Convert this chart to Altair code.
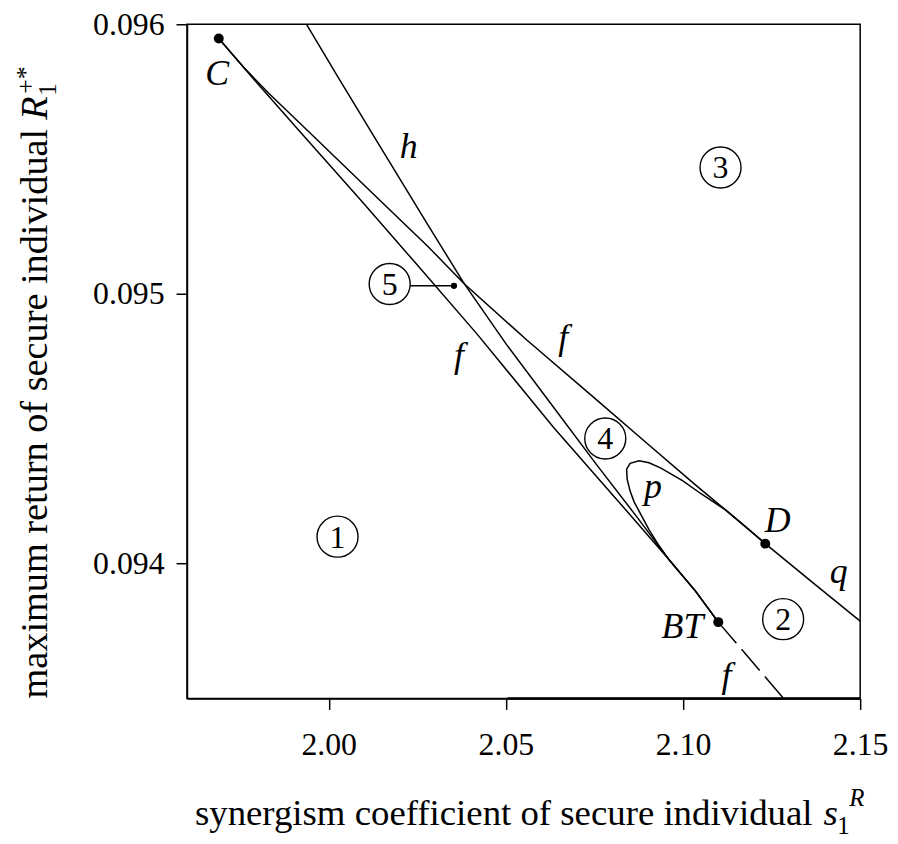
import altair as alt
import pandas as pd

# ---------------- data ----------------
# upper fold curve f : from cusp C through D, continuing as q
upper_f_s = [1.96897, 1.97598, 1.98300, 1.99702, 2.01384, 2.02786, 2.03824, 2.05591,
             2.07554, 2.08956, 2.10358, 2.11199, 2.11760, 2.12321, 2.13723, 2.15000]
upper_f_R = [0.095947, 0.095841, 0.095745, 0.095568, 0.095355, 0.095178, 0.095038, 0.094829,
             0.094608, 0.094449, 0.094291, 0.094199, 0.094137, 0.094074, 0.093923, 0.093787]

# lower fold curve f : from cusp C to BT
lower_f_s = [1.96897, 1.97935, 1.99141, 2.00908, 2.02422, 2.04189, 2.06348, 2.08115,
             2.09601, 2.10358, 2.10995]
lower_f_R = [0.095947, 0.095789, 0.095609, 0.095347, 0.095119, 0.094851, 0.094505, 0.094240,
             0.094015, 0.093897, 0.093783]

# dashed continuation of f below BT
dashed_f_s = [2.10995, 2.12840]
dashed_f_R = [0.093783, 0.093500]

# Hopf curve h
h_s = [1.99374, 2.00263, 2.01384, 2.02786, 2.03824, 2.05030, 2.06208, 2.07554,
       2.08675, 2.09601, 2.10358, 2.10995]
h_R = [0.096000, 0.095804, 0.095561, 0.095259, 0.095038, 0.094810, 0.094604, 0.094368,
       0.094177, 0.094015, 0.093897, 0.093783]

# curve p : from BT, loop, joining f at D
p_s = [2.10995, 2.10358, 2.09601, 2.09320, 2.09040, 2.08816, 2.08619, 2.08507, 2.08423,
       2.08409, 2.08507, 2.08760, 2.09040, 2.09377, 2.09985, 2.10498, 2.10919, 2.11199,
       2.11760, 2.12321]
p_R = [0.093783, 0.093897, 0.094015, 0.094067, 0.094126, 0.094181, 0.094229, 0.094269, 0.094313,
       0.094350, 0.094372, 0.094381, 0.094374, 0.094354, 0.094308, 0.094260, 0.094223, 0.094199,
       0.094137, 0.094074]

# curve lying on the lower boundary
bottom_s = [2.0505, 2.1500]
bottom_R = [0.0935, 0.0935]

# special points C, D, BT
pt_names = ["C", "D", "BT"]
pt_s = [1.96897, 2.12321, 2.10995]
pt_R = [0.095947, 0.094074, 0.093783]

# italic curve / point labels
lab_text = ["C", "h", "f", "f", "p", "D", "q", "BT", "f"]
lab_s = [1.96850, 2.02254, 2.06620, 2.03675, 2.09152, 2.12672, 2.14396, 2.09985, 2.11227]
lab_R = [0.095773, 0.095503, 0.094795, 0.094729, 0.094243, 0.094117, 0.093927, 0.093724, 0.093544]

# circled region numbers
reg_text = ["1", "2", "3", "4", "5"]
reg_s = [2.00249, 2.12826, 2.11059, 2.07806, 2.01721]
reg_R = [0.094100, 0.093794, 0.095469, 0.094464, 0.095037]

# pointer from region 5 to its dot
ptr_s = [2.02302]
ptr_s2 = [2.03535]
ptr_R = [0.09503]

x_ticks = [2.00, 2.05, 2.10, 2.15]
y_ticks = [0.094, 0.095, 0.096]
X_DOMAIN = [1.96, 2.15]
Y_DOMAIN = [0.0935, 0.096]

# ---------------- chart ----------------
SERIF = "Liberation Serif"
W, H = 677, 678
LW = 1.5

xsc = alt.Scale(domain=X_DOMAIN, nice=False, zero=False)
ysc = alt.Scale(domain=Y_DOMAIN, nice=False, zero=False)
xax = alt.Axis(values=x_ticks, format=".2f", title=None, grid=False, labelFlush=False,
               labelOverlap=False, tickSize=11, labelPadding=20)
yax = alt.Axis(values=y_ticks, format=".3f", title=None, grid=False, labelFlush=False,
               labelOverlap=False, tickSize=11, labelPadding=12)


def X(field="s"):
    return alt.X(f"{field}:Q", scale=xsc, axis=xax)


def Y(field="R"):
    return alt.Y(f"{field}:Q", scale=ysc, axis=yax)


def curve(name, s, r):
    return pd.DataFrame({"curve": name, "order": list(range(len(s))), "s": s, "R": r})


lines_df = pd.concat([
    curve("f_upper", upper_f_s, upper_f_R),
    curve("f_lower", lower_f_s, lower_f_R),
    curve("h", h_s, h_R),
    curve("p", p_s, p_R),
], ignore_index=True)

lines = alt.Chart(lines_df).mark_line(color="black", strokeWidth=LW).encode(
    x=X(), y=Y(), detail="curve:N", order="order:Q")

dashed = alt.Chart(curve("f_dash", dashed_f_s, dashed_f_R)).mark_line(
    color="black", strokeWidth=LW, strokeDash=[28, 8]).encode(x=X(), y=Y(), order="order:Q")

bottom = alt.Chart(curve("bottom", bottom_s, bottom_R)).mark_line(
    color="black", strokeWidth=2.6).encode(x=X(), y=Y(), order="order:Q")

pts = alt.Chart(pd.DataFrame({"name": pt_names, "s": pt_s, "R": pt_R})).mark_circle(
    color="black", size=100, opacity=1).encode(x=X(), y=Y())

ptr_df = pd.DataFrame({"s": ptr_s, "s2": ptr_s2, "R": ptr_R})
ptr_line = alt.Chart(ptr_df).mark_rule(color="black", strokeWidth=LW).encode(
    x=X(), x2="s2:Q", y=Y())
ptr_dot = alt.Chart(ptr_df).mark_circle(color="black", size=40, opacity=1).encode(
    x=X("s2"), y=Y())

labels = alt.Chart(pd.DataFrame({"t": lab_text, "s": lab_s, "R": lab_R})).mark_text(
    font=SERIF, fontStyle="italic", fontSize=36, color="black", align="center",
    baseline="alphabetic").encode(x=X(), y=Y(), text="t:N")

reg_df = pd.DataFrame({"t": reg_text, "s": reg_s, "R": reg_R})
reg_circ = alt.Chart(reg_df).mark_point(shape="circle", size=1700, filled=False,
                                        color="black", strokeWidth=1.4, opacity=1).encode(
    x=X(), y=Y())
reg_txt = alt.Chart(reg_df).mark_text(font=SERIF, fontSize=32, color="black",
                                      align="center", baseline="middle", dy=1).encode(
    x=X(), y=Y(), text="t:N")

one = pd.DataFrame({"k": [0]})


def title_piece(text, x, y, size, italic=False, angle=0, align="left"):
    kw = dict(text=text, font=SERIF, fontSize=size, color="black", align=align,
              baseline="alphabetic", angle=angle)
    if italic:
        kw["fontStyle"] = "italic"
    return alt.Chart(one).mark_text(**kw).encode(x=alt.value(x), y=alt.value(y))


# x-axis title:  synergism coefficient of secure individual s_1^R   (font 37)
xt = [
    title_piece("synergism coefficient of secure individual", 8, 805, 37),
    title_piece("s", 640, 805, 37, italic=True),
    title_piece("1", 654, 814, 25),
    title_piece("R", 666, 786, 25, italic=True),
]
# y-axis title:  maximum return of secure individual R_1^{+*}   (font 38.5)
yt = [
    title_piece("maximum return of secure individual", -141, 678, 38.5, angle=270),
    title_piece("R", -141, 96, 38.5, italic=True, angle=270),
    title_piece("1", -132, 72, 25, angle=270),
    title_piece("+*", -154, 70, 26, angle=270),
]

chart = alt.layer(
    lines, dashed, bottom, ptr_line, ptr_dot, pts, labels, reg_circ, reg_txt, *xt, *yt
).properties(
    width=W, height=H,
    autosize=alt.AutoSizeParams(type="none"),
    padding={"left": 180, "top": 14, "right": 30, "bottom": 140},
).configure_view(
    stroke="black", strokeWidth=1.5
).configure_axis(
    labelFont=SERIF, labelFontSize=32, labelColor="black", domainColor="black",
    tickColor="black", domainWidth=1.5, tickWidth=1.5
)

chart.save("out.html", embed_options={"renderer": "svg", "actions": False})
